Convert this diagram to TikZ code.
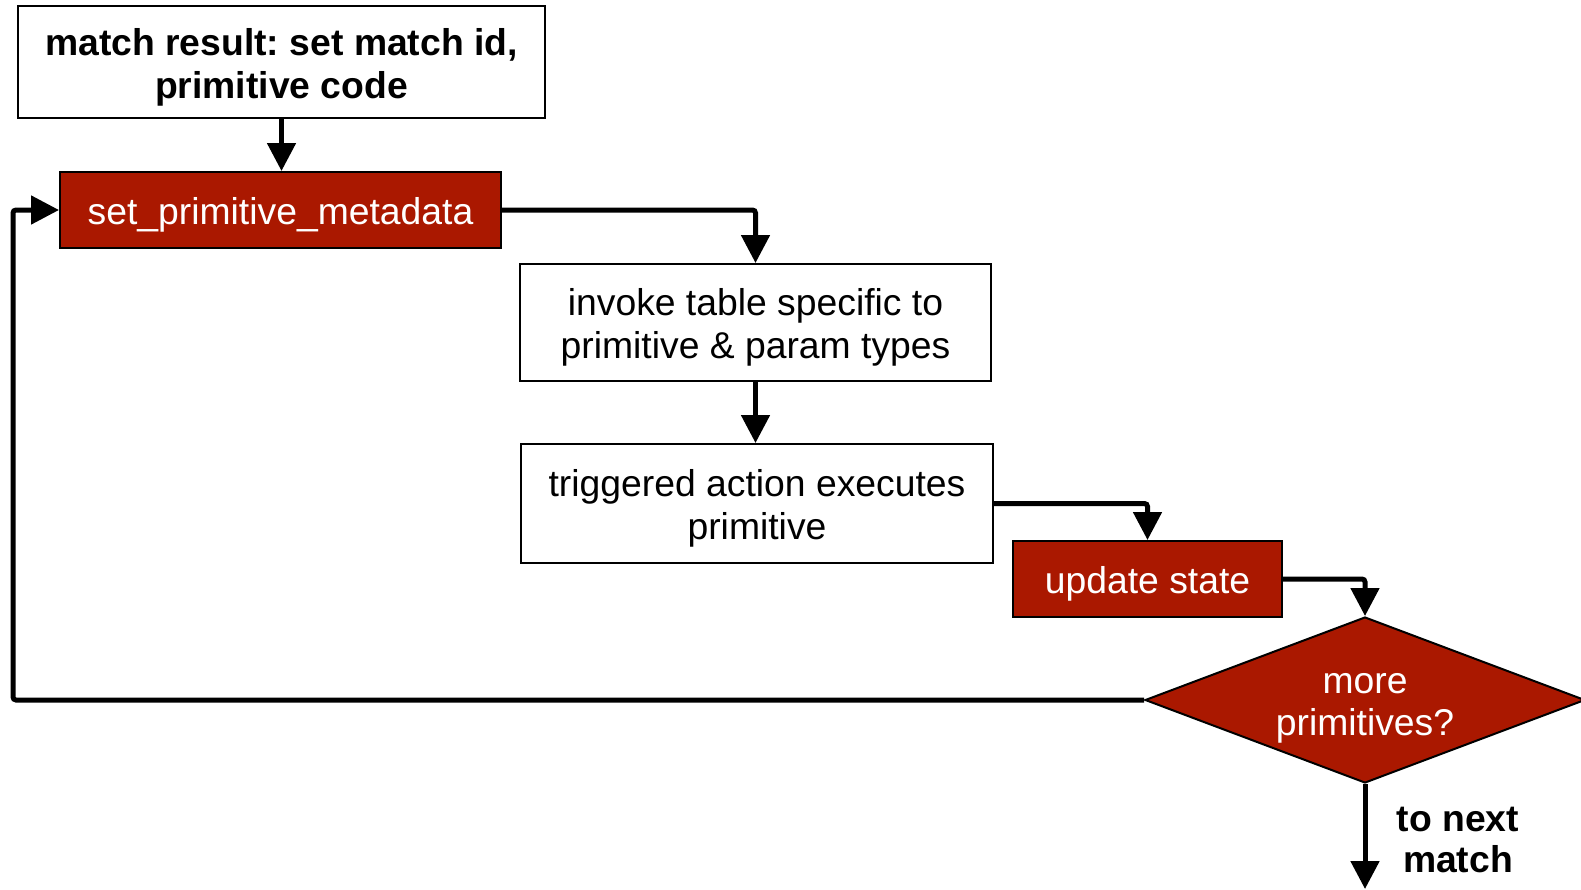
\documentclass[tikz,border=0pt]{standalone}
\usepackage{fontspec}
\setmainfont{Liberation Sans}
\frenchspacing
\usetikzlibrary{arrows.meta,shapes.geometric}
\definecolor{boxred}{RGB}{170,24,0}
\tikzset{
  plainbox/.style={draw=black, line width=2pt, fill=white, inner sep=0pt},
  redbox/.style={plainbox, fill=boxred},
  decision/.style={diamond, draw=black, line width=2pt, fill=boxred, inner sep=0pt, aspect=2.65},
  boxtext/.style={align=center, inner sep=0pt, yshift=-5pt,
    font=\fontsize{37.3pt}{43pt}\selectfont},
  redtext/.style={boxtext, text=white},
  flow/.style={line width=5pt, rounded corners=3pt, -{Triangle[length=28pt,width=28pt]}},
  exitlabel/.style={align=center, font=\fontsize{37.3pt}{41pt}\selectfont\bfseries}
}
\begin{document}
\begin{tikzpicture}[x=1pt,y=-1pt]
\useasboundingbox (0,0) rectangle (1581,889);

% process steps (frames)
\node[plainbox, minimum width=527pt, minimum height=112pt] (match) at (281.5,62) {};
\node[redbox, minimum width=441pt, minimum height=76pt] (meta) at (280.5,210) {};
\node[plainbox, minimum width=471pt, minimum height=117pt] (invoke) at (755.5,322.5) {};
\node[plainbox, minimum width=472pt, minimum height=119pt] (trig) at (757,503.5) {};
\node[redbox, minimum width=269pt, minimum height=76pt] (upd) at (1147.5,579) {};
\node[decision, minimum width=440pt, minimum height=166pt] (more) at (1365,700) {};

% step captions
\node[boxtext, font=\fontsize{37.3pt}{43pt}\selectfont\bfseries] (matchtxt) at (match.center)
  {match result: set match id,\\primitive code};
\node[redtext] (metatxt) at (meta.center) {set\_primitive\_metadata};
\node[boxtext] (invoketxt) at (invoke.center) {invoke table specific to\\primitive \& param types};
\node[boxtext] (trigtxt) at (trig.center) {triggered action executes\\primitive};
\node[redtext] (updtxt) at (upd.center) {update state};
\node[redtext, yshift=-3pt, font=\fontsize{37.3pt}{42pt}\selectfont] (moretxt) at (more.center) {more\\primitives?};

\node[exitlabel] (nextlbl) at (1458,840) {to next\\match};
\coordinate (exit) at (1365,889);
\coordinate (loopx) at (13,700);

% connectors
\draw[flow] (match.south) -- (match.south |- meta.north);
\draw[flow] (meta.east) -| (invoke.north);
\draw[flow] (invoke.south) -- (invoke.south |- trig.north);
\draw[flow] (trig.east) -| (upd.north);
\draw[flow] (upd.east) -| (more.north);
\draw[flow] (more.west) -- (loopx) |- (meta.west);
\draw[flow] (more.south) -- (exit);
\end{tikzpicture}
\end{document}
